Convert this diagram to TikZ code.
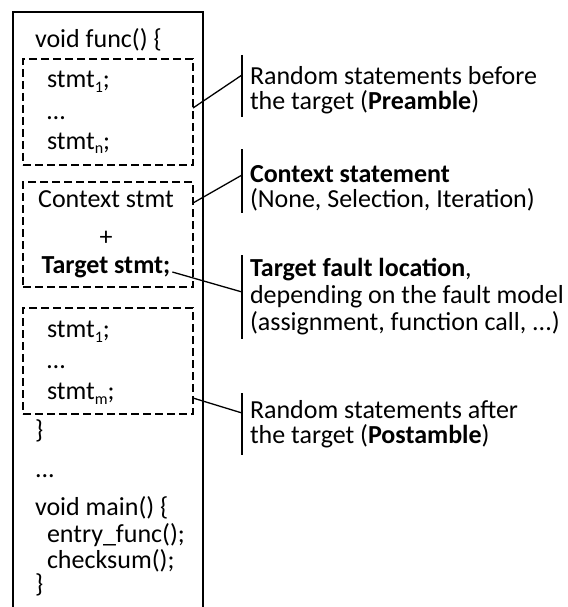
\documentclass[tikz,border=0pt]{standalone}
\usepackage{fontspec}
\setmainfont{Carlito}
\newcommand{\lowsub}[1]{\raisebox{-5pt}{\fontsize{16}{16}\selectfont #1}}
\begin{document}
\begin{tikzpicture}[x=1pt,y=-1pt,
  every node/.style={inner sep=0pt, outer sep=0pt, font=\fontsize{26}{27}\selectfont},
  code/.style={anchor=base west},
  note/.style={anchor=base west},
  dbox/.style={draw, line width=2.5pt, dash pattern=on 8pt off 4pt,
               minimum width=170pt, inner sep=0pt},
  link/.style={line width=1.3pt},
  bar/.style={line width=1.3pt}]
\useasboundingbox (0,0) rectangle (567,607);

% program frame (open at the bottom)
\draw[line width=1.7pt] (13,615) -- (13,12) -- (203,12) -- (203,615);

% dashed regions
\node[dbox, minimum height=106pt] (pre)  at (108,112)   {};
\node[dbox, minimum height=105pt] (ctx)  at (108,234.5) {};
\node[dbox, minimum height=106pt] (post) at (108,361)   {};

% code lines
\node[code] (fhead) at (35,48)  {void func() \{};
\node[code] (p1)    at (47,88)  {stmt\lowsub{1};};
\node[code] (p2)    at (47,120) {…};
\node[code] (p3)    at (47,149) {stmt\lowsub{n};};
\node[anchor=base] (cst)  at (106,207) {Context stmt};
\node[anchor=base] (plus) at (106,245) {+};
\node[anchor=base] (tgt)  at (106,273) {\textbf{Target stmt;}};
\node[code] (q1)    at (47,337) {stmt\lowsub{1};};
\node[code] (q2)    at (47,368) {…};
\node[code] (q3)    at (47,399) {stmt\lowsub{m};};
\node[code] (fend)  at (35,438) {\}};
\node[code] (dots)  at (35,477) {...};
\node[code] (mhead) at (35,515) {void main() \{};
\node[code] (m1)    at (47,542) {entry\_func();};
\node[code] (m2)    at (47,568) {checksum();};
\node[code] (mend)  at (35,592) {\}};

% annotations
\node[note] (n1a) at (250,85)  {Random statements before};
\node[note] (n1b) at (250,110) {the target (\textbf{Preamble})};
\node[note] (n2a) at (250,182) {\textbf{Context statement}};
\node[note] (n2b) at (250,207) {(None, Selection, Iteration)};
\node[note] (n3a) at (250,276) {\textbf{Target fault location},};
\node[note] (n3b) at (250,303) {depending on the fault model};
\node[note] (n3c) at (250,330) {(assignment, function call, ...)};
\node[note] (n4a) at (250,418) {Random statements after};
\node[note] (n4b) at (250,443) {the target (\textbf{Postamble})};

% annotation bars
\coordinate (b1t) at (242,55);  \coordinate (b1b) at (242,117); \coordinate (b1m) at (242,75);
\coordinate (b2t) at (242,149); \coordinate (b2b) at (242,213); \coordinate (b2m) at (242,175);
\coordinate (b3t) at (242,255); \coordinate (b3b) at (242,339); \coordinate (b3m) at (242,292);
\coordinate (b4t) at (242,393); \coordinate (b4b) at (242,455); \coordinate (b4m) at (242,413);
\draw[bar] (b1t) -- (b1b);
\draw[bar] (b2t) -- (b2b);
\draw[bar] (b3t) -- (b3b);
\draw[bar] (b4t) -- (b4b);

% connectors
\draw[link] ([yshift=4pt]pre.east) -- (b1m);
\draw[link] ([yshift=31.5pt]ctx.east) -- (b2m);
\draw[link] ([xshift=2pt,yshift=1pt]tgt.base east) -- (b3m);
\draw[link] ([yshift=-37pt]post.east) -- (b4m);
\end{tikzpicture}
\end{document}
